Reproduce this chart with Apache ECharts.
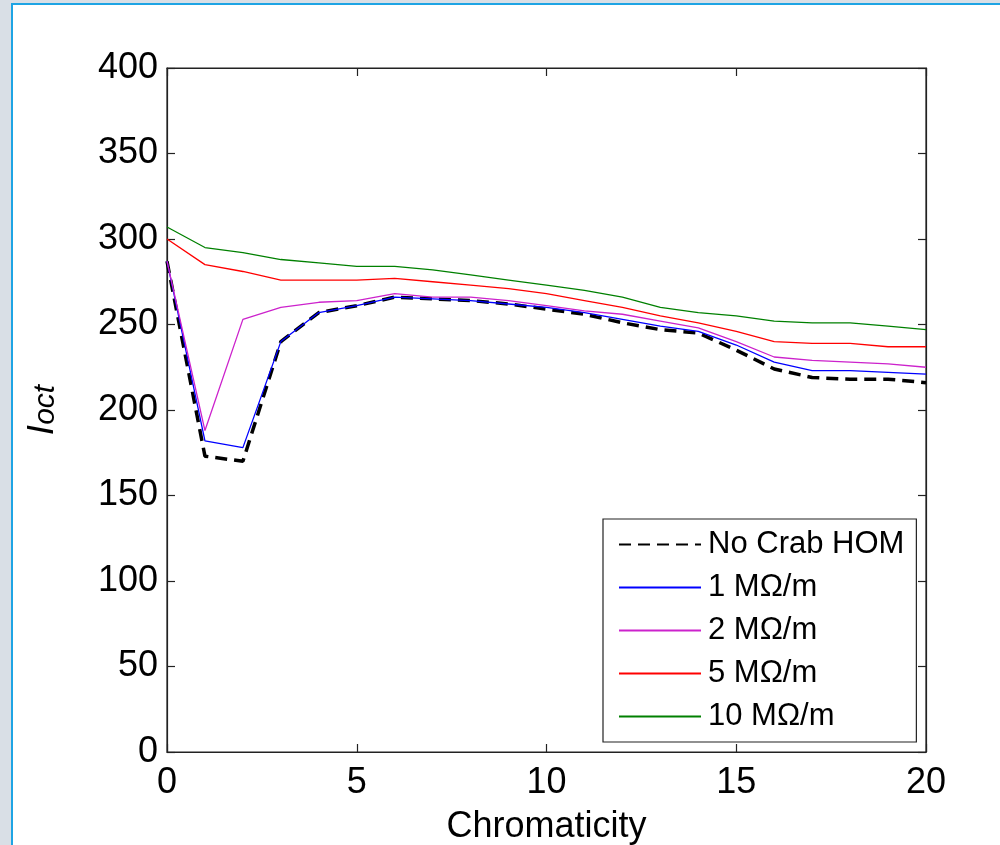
<!DOCTYPE html>
<html>
<head>
<meta charset="utf-8">
<script src="https://cdn.jsdelivr.net/npm/echarts@6/dist/echarts.min.js"></script>
<style>
html,body{margin:0;padding:0;width:1000px;height:845px;overflow:hidden;background:#d9dfe6;}
#frame{position:absolute;left:11px;top:3px;width:1000px;height:860px;background:#fff;border-left:2px solid #1ea4e4;border-top:2px solid #1ea4e4;}
#chart{position:absolute;left:0;top:0;width:1000px;height:845px;}
</style>
</head>
<body>
<div id="frame"></div>
<div id="chart"></div>
<script>
const chromaticity = [0,1,2,3,4,5,6,7,8,9,10,11,12,13,14,15,16,17,18,19,20];
const seriesNames = ['No Crab HOM', '1 MΩ/m', '2 MΩ/m', '5 MΩ/m', '10 MΩ/m'];
const noCrabHOM = [287,173,170,240,257,261,266,265,264,262,259,256,251,247,245,235,224,219,218,218,216];
const r1 = [287,182,178,240,257,261,266,265,264,262,260,257,253,249,246,238,228,223,223,222,221];
const r2 = [287,188,253,260,263,264,268,266,266,264,261,258,256,252,248,240,231,229,228,227,225];
const r5 = [300,285,281,276,276,276,277,275,273,271,268,264,260,255,251,246,240,239,239,237,237];
const r10 = [307,295,292,288,286,284,284,282,279,276,273,270,266,260,257,255,252,251,251,249,247];

const FONT = 'Liberation Sans, Arial, sans-serif';
const colors = ['#000000', '#0000ff', '#cc22cc', '#ff0000', '#008000'];
const widths = [3.5, 1.3, 1.3, 1.3, 1.3];
const allData = [noCrabHOM, r1, r2, r5, r10];

const chart = echarts.init(document.getElementById('chart'), null, {renderer: 'canvas'});
const mkLine = () => ({show: true, onZero: false, lineStyle: {color: '#222', width: 1.2}});
const mkTick = () => ({show: true, inside: true, length: 8, lineStyle: {color: '#222', width: 1.2}});

const option = {
  backgroundColor: 'transparent',
  animation: false,
  grid: {left: 167, right: 74, top: 68, bottom: 93, containLabel: false, outerBoundsMode: 'none',
         show: true, borderColor: '#222', borderWidth: 1.2, backgroundColor: 'transparent'},
  legend: {
    orient: 'vertical', left: 603, top: 519,
    padding: [10, 12, 10, 15],
    itemGap: 12,
    itemWidth: 82, itemHeight: 14,
    backgroundColor: '#fff', borderColor: '#222', borderWidth: 1.2,
    align: 'left',
    itemStyle: {opacity: 0, borderWidth: 0},
    textStyle: {fontFamily: FONT, fontSize: 31, lineHeight: 31, color: '#000', padding: [0, 0, 0, 2]},
    data: seriesNames
  },
  xAxis: [
    {type: 'value', min: 0, max: 20, interval: 5, position: 'bottom',
     axisLine: mkLine(), axisTick: mkTick(), splitLine: {show: false},
     axisLabel: {fontFamily: FONT, fontSize: 36, color: '#000', margin: 13},
     name: 'Chromaticity', nameLocation: 'middle', nameGap: 57,
     nameTextStyle: {fontFamily: FONT, fontSize: 36, color: '#000'}},
    {type: 'value', min: 0, max: 20, interval: 5, position: 'top',
     axisLine: mkLine(), axisTick: mkTick(), splitLine: {show: false}, axisLabel: {show: false}}
  ],
  yAxis: [
    {type: 'value', min: 0, max: 400, interval: 50, position: 'left',
     axisLine: mkLine(), axisTick: mkTick(), splitLine: {show: false},
     axisLabel: {fontFamily: FONT, fontSize: 36, color: '#000', margin: 9},
     name: '{a|I}{b|oct}', nameLocation: 'middle', nameRotate: 90, nameGap: 106,
     nameTextStyle: {
       rich: {
         a: {fontFamily: FONT, fontSize: 37, fontStyle: 'italic', color: '#000', lineHeight: 37, verticalAlign: 'top'},
         b: {fontFamily: FONT, fontSize: 30, fontStyle: 'italic', color: '#000', lineHeight: 30, padding: [28, 0, 0, 0], verticalAlign: 'bottom'}
       }
     }},
    {type: 'value', min: 0, max: 400, interval: 50, position: 'right',
     axisLine: mkLine(), axisTick: mkTick(), splitLine: {show: false}, axisLabel: {show: false}}
  ],
  series: seriesNames.map((n, i) => ({
    name: n, type: 'line', xAxisIndex: 0, yAxisIndex: 0,
    data: chromaticity.map((c, k) => [c, allData[i][k]]),
    symbol: 'none', showSymbol: false,
    itemStyle: {color: colors[i]},
    lineStyle: {color: colors[i], width: widths[i], type: i === 0 ? [12, 7] : 'solid'},
    z: 2 + i
  })).concat([{
    name: 'axes', type: 'line', xAxisIndex: 1, yAxisIndex: 1, data: [], symbol: 'none', silent: true
  }])
};
chart.setOption(option);
</script>
</body>
</html>
